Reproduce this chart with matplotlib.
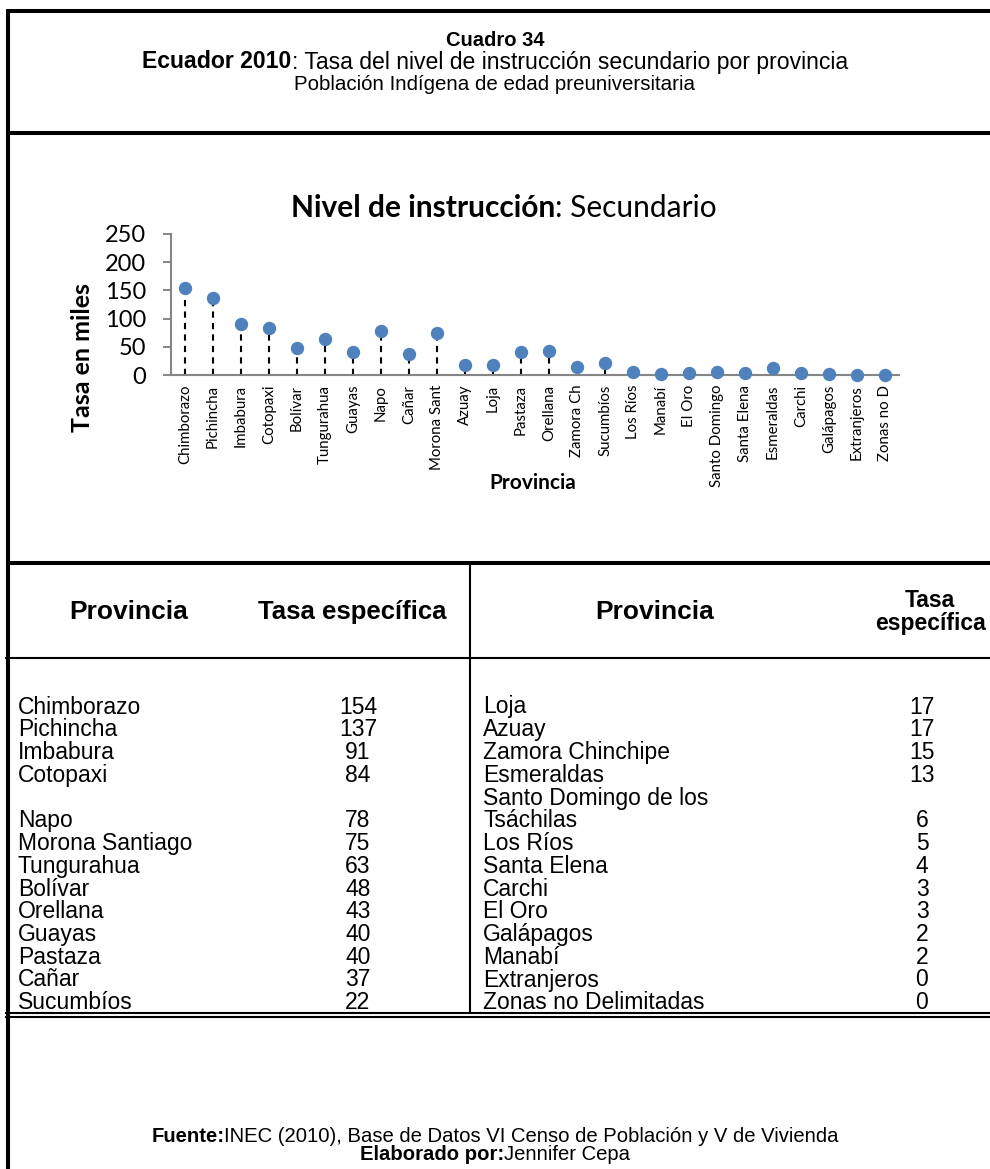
import matplotlib
matplotlib.use('Agg')
import numpy as np
import matplotlib.pyplot as plt

ARIAL = 'Liberation Sans'
CALIBRI = 'Lato'
BLUE = '#4F81BD'
GRAY = '#868686'

# ---- chart data ----
chart_labels = ['Chimborazo', 'Pichincha', 'Imbabura', 'Cotopaxi', 'Bolívar',
                'Tungurahua', 'Guayas', 'Napo', 'Cañar', 'Morona Sant',
                'Azuay', 'Loja', 'Pastaza', 'Orellana', 'Zamora Ch',
                'Sucumbíos', 'Los Ríos', 'Manabí', 'El Oro', 'Santo Domingo',
                'Santa Elena', 'Esmeraldas', 'Carchi', 'Galápagos',
                'Extranjeros', 'Zonas no D']
chart_values = [154, 137, 91, 84, 48, 63, 40, 78, 37, 75, 17, 17, 40, 43, 15,
                22, 5, 2, 3, 6, 4, 13, 3, 2, 0, 0]
y_ticks = [0, 50, 100, 150, 200, 250]

# ---- table data ----
left_names = ['Chimborazo', 'Pichincha', 'Imbabura', 'Cotopaxi', 'Napo',
              'Morona Santiago', 'Tungurahua', 'Bolívar', 'Orellana', 'Guayas',
              'Pastaza', 'Cañar', 'Sucumbíos']
left_values = [154, 137, 91, 84, 78, 75, 63, 48, 43, 40, 40, 37, 22]
right_names = ['Loja', 'Azuay', 'Zamora Chinchipe', 'Esmeraldas',
               'Santo Domingo de los\nTsáchilas', 'Los Ríos', 'Santa Elena',
               'Carchi', 'El Oro', 'Galápagos', 'Manabí', 'Extranjeros',
               'Zonas no Delimitadas']
right_values = [17, 17, 15, 13, 6, 5, 4, 3, 3, 2, 2, 0, 0]

W, H = 990, 1169
fig = plt.figure(figsize=(W / 100, H / 100), dpi=100)
fig.patch.set_facecolor('white')

# background axes in pixel units for frame, header, table, footer
bg = fig.add_axes([0, 0, 1, 1])
bg.set_xlim(0, W)
bg.set_ylim(H, 0)
bg.axis('off')
renderer = fig.canvas.get_renderer()


def rich(x, y, parts, size, family=ARIAL):
    """Centered line made of (text, weight) pieces."""
    items = []
    for s, w in parts:
        t = bg.text(0, y, s, fontsize=size, fontweight=w, family=family,
                    ha='left', va='center')
        items.append((t, t.get_window_extent(renderer).width))
    x0 = x - sum(wd for _, wd in items) / 2
    for t, wd in items:
        t.set_x(x0)
        x0 += wd


# frame lines
thick, thin = 2.9, 1.5
bg.plot([8, 8], [9, H], color='black', lw=thick, solid_capstyle='butt')
for yy in (11, 133, 563):
    bg.plot([6, W], [yy, yy], color='black', lw=thick, solid_capstyle='butt')
bg.plot([6, W], [658, 658], color='black', lw=thin)
bg.plot([6, W], [1013, 1013], color='black', lw=thin)
bg.plot([6, W], [1017, 1017], color='black', lw=thin)
bg.plot([470, 470], [565, 1013], color='black', lw=thin)

# header
bg.text(495, 40, 'Cuadro 34', fontsize=14.5, fontweight='bold', family=ARIAL,
        ha='center', va='center')
rich(495, 62, [('Ecuador 2010', 'bold'),
               (': Tasa del nivel de instrucción secundario por provincia', 'normal')], 16.6)
bg.text(495, 85, 'Población Indígena de edad preuniversitaria', fontsize=14.8,
        family=ARIAL, ha='center', va='center')

# chart title
rich(504, 208, [('Nivel de instrucción', 'bold'), (': Secundario', 'normal')],
     21.5, family=CALIBRI)

# ---- lollipop chart ----
ax = fig.add_axes([171 / W, 1 - 375 / H, 728 / W, 141 / H])
ax.set_facecolor('none')
x = np.arange(len(chart_labels))
ax.vlines(x, 0, chart_values, colors='black', linestyles=(0, (3, 2.5)), lw=1.5,
          zorder=2)
ax.plot(x, chart_values, 'o', color=BLUE, ms=8.6, zorder=3, clip_on=False)
ax.set_xlim(-0.5, len(chart_labels) - 0.5)
ax.set_ylim(0, 250)
ax.set_yticks(y_ticks)
ax.set_xticks(x)
ax.set_xticklabels(chart_labels, rotation=90, family=CALIBRI, fontsize=10.8)
ax.tick_params(axis='x', length=0, pad=7)
ax.tick_params(axis='y', length=6, width=1.4, color=GRAY, pad=12,
               labelsize=17)
for lab in ax.get_yticklabels():
    lab.set_family(CALIBRI)
for side in ('top', 'right'):
    ax.spines[side].set_visible(False)
for side in ('left', 'bottom'):
    ax.spines[side].set_color(GRAY)
    ax.spines[side].set_linewidth(1.5)
ax.set_ylabel('Tasa en miles', family=CALIBRI, fontsize=18, fontweight='bold',
              va='center')
ax.yaxis.set_label_coords((83 - 171) / 728, (375 - 357) / 141)
ax.set_xlabel('Provincia', family=CALIBRI, fontsize=15, fontweight='bold',
              va='center')
ax.xaxis.set_label_coords((533 - 171) / 728, -(483 - 375) / 141)

# ---- table ----
hdr = dict(fontweight='bold', family=ARIAL, ha='center', va='center')
bg.text(129, 612, 'Provincia', fontsize=19, **hdr)
bg.text(352, 612, 'Tasa específica', fontsize=18.5, **hdr)
bg.text(655, 612, 'Provincia', fontsize=19, **hdr)
bg.text(930, 612, 'Tasa\nespecífica', fontsize=16.5, linespacing=1.05, **hdr)

row_h = 22.75
yy = 707
body = dict(fontsize=16.5, family=ARIAL, va='center')
for ln, lv, rn, rv in zip(left_names, left_values, right_names, right_values):
    extra = rn.count('\n')
    yy += extra * row_h
    bg.text(18, yy, ln, ha='left', **body)
    bg.text(358, yy, str(lv), ha='center', **body)
    lines = rn.split('\n')
    for k, part in enumerate(lines):
        bg.text(483, yy - (len(lines) - 1 - k) * row_h, part, ha='left', **body)
    bg.text(922, yy, str(rv), ha='center', **body)
    yy += row_h

# footer
rich(495, 1137, [('Fuente:', 'bold'),
                 ('INEC (2010), Base de Datos VI Censo de Población y V de Vivienda', 'normal')], 14.6)
rich(495, 1154, [('Elaborado por:', 'bold'), ('Jennifer Cepa', 'normal')], 14.6)

fig.savefig('out.png', dpi=100, facecolor='white')
